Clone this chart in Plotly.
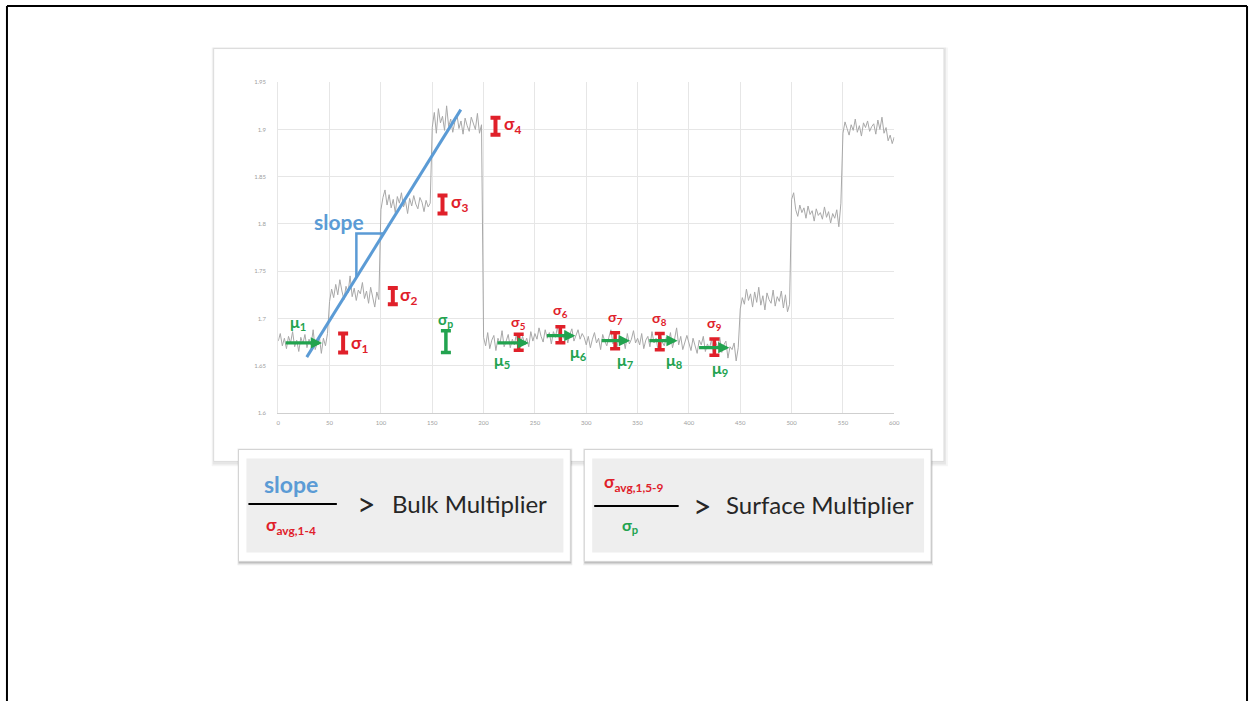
import plotly.graph_objects as go

# ---- signal samples (every 2 units of x), one list per 50-unit step ----
step_x = 2
seg_00 = [1.676, 1.684, 1.671, 1.679, 1.668, 1.681, 1.674, 1.686, 1.670, 1.677, 1.665, 1.680, 1.673,
          1.683, 1.669, 1.678, 1.672, 1.688, 1.667, 1.675, 1.681, 1.663, 1.679, 1.671, 1.684]
seg_01 = [1.718, 1.731, 1.722, 1.736, 1.725, 1.741, 1.729, 1.720, 1.734, 1.727, 1.745, 1.723, 1.732,
          1.719, 1.730, 1.726, 1.738, 1.721, 1.729, 1.716, 1.733, 1.724, 1.712, 1.728, 1.720]
seg_02 = [1.815, 1.828, 1.836, 1.820, 1.831, 1.817, 1.826, 1.812, 1.829, 1.822, 1.833, 1.818, 1.824,
          1.811, 1.827, 1.819, 1.830, 1.821, 1.816, 1.828, 1.823, 1.813, 1.825, 1.818, 1.822]
seg_03 = [1.902, 1.918, 1.896, 1.922, 1.907, 1.914, 1.899, 1.925, 1.903, 1.911, 1.897, 1.908, 1.916,
          1.901, 1.909, 1.895, 1.912, 1.904, 1.898, 1.913, 1.906, 1.900, 1.917, 1.896, 1.905]
seg_04 = [1.680, 1.671, 1.685, 1.668, 1.677, 1.682, 1.666, 1.679, 1.673, 1.687, 1.670, 1.676, 1.683,
          1.669, 1.678, 1.672, 1.684, 1.667, 1.675, 1.681, 1.673, 1.679, 1.670, 1.686, 1.676]
seg_05 = [1.684, 1.678, 1.690, 1.681, 1.675, 1.688, 1.679, 1.685, 1.673, 1.686, 1.680, 1.691, 1.677,
          1.684, 1.679, 1.687, 1.674, 1.683, 1.689, 1.676, 1.682, 1.688, 1.678, 1.684, 1.680]
seg_06 = [1.672, 1.681, 1.669, 1.678, 1.685, 1.674, 1.679, 1.667, 1.683, 1.676, 1.671, 1.680, 1.688,
          1.673, 1.677, 1.670, 1.682, 1.675, 1.679, 1.668, 1.684, 1.673, 1.678, 1.687, 1.674]
seg_07 = [1.679, 1.672, 1.684, 1.668, 1.677, 1.681, 1.670, 1.686, 1.674, 1.679, 1.666, 1.683, 1.675,
          1.671, 1.680, 1.673, 1.685, 1.669, 1.678, 1.690, 1.672, 1.681, 1.667, 1.676, 1.682]
seg_08 = [1.674, 1.666, 1.679, 1.670, 1.663, 1.677, 1.672, 1.681, 1.665, 1.673, 1.668, 1.678, 1.661,
          1.675, 1.669, 1.680, 1.664, 1.672, 1.676, 1.658, 1.670, 1.667, 1.674, 1.655, 1.669]
seg_09 = [1.710, 1.722, 1.715, 1.731, 1.719, 1.726, 1.712, 1.728, 1.717, 1.733, 1.714, 1.724, 1.709,
          1.727, 1.720, 1.716, 1.730, 1.713, 1.723, 1.718, 1.729, 1.711, 1.725, 1.707, 1.715]
seg_10 = [1.826, 1.833, 1.815, 1.808, 1.820, 1.812, 1.817, 1.806, 1.819, 1.810, 1.814, 1.803, 1.816,
          1.809, 1.812, 1.805, 1.818, 1.807, 1.813, 1.801, 1.811, 1.806, 1.815, 1.797, 1.822]
seg_11 = [1.896, 1.908, 1.901, 1.894, 1.905, 1.899, 1.911, 1.897, 1.904, 1.893, 1.907, 1.902, 1.909,
          1.898, 1.903, 1.906, 1.895, 1.910, 1.900, 1.913, 1.896, 1.902, 1.888, 1.894, 1.885]
last_value = [1.892]

signal_y = (seg_00 + seg_01 + seg_02 + seg_03 + seg_04 + seg_05 + seg_06 + seg_07 + seg_08 + seg_09
            + seg_10 + seg_11 + last_value)
signal_x = [i * step_x for i in range(len(signal_y))]

# axis ticks
x_ticks = [0, 50, 100, 150, 200, 250, 300, 350, 400, 450, 500, 550, 600]
y_ticks = [1.6, 1.65, 1.7, 1.75, 1.8, 1.85, 1.9, 1.95]

# per-step standard deviation markers (centre, half-height)
sigma_names = ["1", "2", "3", "4"]
sigma_x = [63.2, 111.6, 160.0, 211.6]
sigma_y = [1.674, 1.7236, 1.8205, 1.9034]
sigma_half = [0.0100, 0.0085, 0.0095, 0.0090]

small_sigma_names = ["5", "6", "7", "8", "9"]
small_sigma_x = [234.2, 274.8, 328.1, 371.6, 424.8]
small_sigma_y = [1.6748, 1.6827, 1.6764, 1.6754, 1.6696]
small_sigma_half = [0.0085, 0.0085, 0.0085, 0.0085, 0.0085]

# spread of the step means
sigma_p_x = [163.3]
sigma_p_y = [1.6754]
sigma_p_half = [0.0115]

# mean arrows (start, end, level)
mu_names = ["1", "5", "6", "7", "8", "9"]
mu_x0 = [5.8, 212.0, 260.3, 313.5, 360.0, 408.4]
mu_x1 = [42.6, 244.0, 289.4, 342.6, 389.0, 439.4]
mu_y = [1.674, 1.674, 1.6817, 1.6764, 1.6764, 1.669]

# fitted slope line and its triangle
slope_x = [27.8, 177.8]
slope_y = [1.659, 1.921]
tri_x = [76.1, 76.1, 102.8]
tri_y = [1.7435, 1.790, 1.790]

RED = "#e0202a"
GREEN = "#22a34f"
BLUE = "#5b9bd5"
GRAY_TXT = "#262626"
FONT = "Lato, Open Sans, sans-serif"

W, H = 1257, 704


def px(x):
    return x / W


def py(y):
    return 1 - y / H


fig = go.Figure()

fig.add_trace(go.Scatter(x=signal_x, y=signal_y, mode="lines",
                         line=dict(color="#a8a8a8", width=1), hoverinfo="skip"))

fig.add_trace(go.Scatter(x=slope_x, y=slope_y, mode="lines",
                         line=dict(color=BLUE, width=3), hoverinfo="skip"))
fig.add_trace(go.Scatter(x=tri_x, y=tri_y, mode="lines",
                         line=dict(color=BLUE, width=2.5), hoverinfo="skip"))

fig.add_trace(go.Scatter(x=sigma_x, y=sigma_y, mode="markers", marker=dict(size=1, color=RED, opacity=0),
                         error_y=dict(type="data", array=sigma_half, color=RED, thickness=4, width=5),
                         hoverinfo="skip"))
fig.add_trace(go.Scatter(x=small_sigma_x, y=small_sigma_y, mode="markers",
                         marker=dict(size=1, color=RED, opacity=0),
                         error_y=dict(type="data", array=small_sigma_half, color=RED, thickness=3.5, width=5),
                         hoverinfo="skip"))
fig.add_trace(go.Scatter(x=sigma_p_x, y=sigma_p_y, mode="markers", marker=dict(size=1, color=GREEN, opacity=0),
                         error_y=dict(type="data", array=sigma_p_half, color=GREEN, thickness=3.5, width=5),
                         hoverinfo="skip"))

annotations = []

# mean arrows
for x0, x1, y in zip(mu_x0, mu_x1, mu_y):
    annotations.append(dict(x=x1, y=y, ax=x0, ay=y, xref="x", yref="y", axref="x", ayref="y",
                            text="", showarrow=True, arrowhead=2, arrowsize=0.7, arrowwidth=3.2,
                            arrowcolor=GREEN))

# mean labels
mu_label_pos = [(19.4, 1.6954), (217.7, 1.6555), (292.3, 1.6639), (338.7, 1.6555), (386.1, 1.6555),
                (430.6, 1.6472)]
for name, (lx, ly) in zip(mu_names, mu_label_pos):
    annotations.append(dict(x=lx, y=ly, xref="x", yref="y", showarrow=False, xanchor="center",
                            yanchor="middle", text=f"<b>μ<sub>{name}</sub></b>",
                            font=dict(family=FONT, size=16, color=GREEN)))

# sigma labels for the rising steps (left edge of the text)
sigma_label_pos = [(68.7, 1.6734), (117.0, 1.7237), (166.5, 1.8222), (217.7, 1.9049)]
for name, (lx, ly) in zip(sigma_names, sigma_label_pos):
    annotations.append(dict(x=lx, y=ly, xref="x", yref="y", showarrow=False, xanchor="left",
                            yanchor="middle", text=f"<b>σ<sub>{name}</sub></b>",
                            font=dict(family=FONT, size=17, color=RED)))

# sigma labels over the flat steps
small_label_pos = [(234.2, 1.6954), (274.8, 1.7079), (328.1, 1.7006), (371.6, 1.6996), (424.8, 1.6943)]
for name, (lx, ly) in zip(small_sigma_names, small_label_pos):
    annotations.append(dict(x=lx, y=ly, xref="x", yref="y", showarrow=False, xanchor="center",
                            yanchor="middle", text=f"<b>σ<sub>{name}</sub></b>",
                            font=dict(family=FONT, size=14, color=RED)))

annotations.append(dict(x=163.3, y=1.698, xref="x", yref="y", showarrow=False, xanchor="center",
                        yanchor="middle", text="<b>σ<sub>p</sub></b>",
                        font=dict(family=FONT, size=15, color=GREEN)))

annotations.append(dict(x=59.0, y=1.803, xref="x", yref="y", showarrow=False, xanchor="center",
                        yanchor="middle", text="<b>slope</b>", font=dict(family=FONT, size=21, color=BLUE)))


def label(x, y, text, size, color):
    return dict(x=px(x), y=py(y), xref="paper", yref="paper", showarrow=False,
                xanchor="center", yanchor="middle", text=text,
                font=dict(family=FONT, size=size, color=color))


# formula boxes
annotations += [
    label(291, 485, "<b>slope</b>", 23, BLUE),
    label(291, 527, "<b>σ<sub>avg,1-4</sub></b>", 17, RED),
    label(367, 505, ">", 32, GRAY_TXT),
    label(470, 505, "Bulk Multiplier", 24, GRAY_TXT),
    label(636, 484, "<b>σ<sub>avg,1,5-9</sub></b>", 17, RED),
    label(632, 527, "<b>σ<sub>p</sub></b>", 16, GREEN),
    label(705, 507, ">", 32, GRAY_TXT),
    label(823, 506, "Surface Multiplier", 24, GRAY_TXT),
]


def rect(x0, y0, x1, y1, fill, line_color="rgba(0,0,0,0)", lw=0):
    return dict(type="rect", xref="paper", yref="paper", x0=px(x0), x1=px(x1), y0=py(y1), y1=py(y0),
                fillcolor=fill, line=dict(color=line_color, width=lw), layer="below")


shapes = []
# slide frame
shapes += [
    dict(type="line", xref="paper", yref="paper", x0=px(5), x1=px(1253), y0=py(2), y1=py(2),
         line=dict(color="black", width=2)),
    dict(type="line", xref="paper", yref="paper", x0=px(5), x1=px(5), y0=py(2), y1=0,
         line=dict(color="black", width=2)),
    dict(type="line", xref="paper", yref="paper", x0=px(1253), x1=px(1253), y0=py(2), y1=0,
         line=dict(color="black", width=2)),
]
# chart card with soft shadow
shapes += [
    rect(211, 44, 952, 467, "rgba(0,0,0,0.04)"),
    rect(212, 44, 950, 465, "rgba(0,0,0,0.06)"),
    rect(213, 45, 948, 462, "white", "#dcdcdc", 1),
]
# formula boxes
for x0, x1 in [(238, 572), (586, 935)]:
    shapes += [
        rect(x0 - 1, 449, x1 + 2, 567, "rgba(0,0,0,0.08)"),
        rect(x0, 450, x1 + 1, 565, "rgba(0,0,0,0.18)"),
        rect(x0, 450, x1, 563, "white", "#d4d4d4", 1),
        rect(x0 + 8, 459, x1 - 7, 554, "#eeeeee"),
    ]
shapes += [
    dict(type="line", xref="paper", yref="paper", x0=px(248), x1=px(337), y0=py(505), y1=py(505),
         line=dict(color="black", width=2)),
    dict(type="line", xref="paper", yref="paper", x0=px(596), x1=px(681), y0=py(507), y1=py(507),
         line=dict(color="black", width=2)),
]

fig.update_layout(
    width=W, height=H,
    margin=dict(l=0, r=0, t=0, b=0),
    paper_bgcolor="white",
    plot_bgcolor="rgba(0,0,0,0)",
    showlegend=False,
    annotations=annotations,
    shapes=shapes,
    xaxis=dict(domain=[px(278), px(898)], range=[0, 600], tickvals=x_ticks,
               showgrid=True, gridcolor="#e6e6e6", gridwidth=1, zeroline=False,
               showline=True, linecolor="#cfcfcf", linewidth=1,
               tickfont=dict(family=FONT, size=6, color="#a0a0a0"), ticks="", ticklabelstandoff=4),
    yaxis=dict(domain=[py(413), py(79)], range=[1.6, 1.95], tickvals=y_ticks,
               ticktext=[f"{v:g}" for v in y_ticks],
               showgrid=True, gridcolor="#e6e6e6", gridwidth=1, zeroline=False,
               showline=True, linecolor="#e6e6e6", linewidth=1,
               tickfont=dict(family=FONT, size=6, color="#a0a0a0"), ticks="", ticklabelstandoff=10),
)

fig.write_html("out.html")
